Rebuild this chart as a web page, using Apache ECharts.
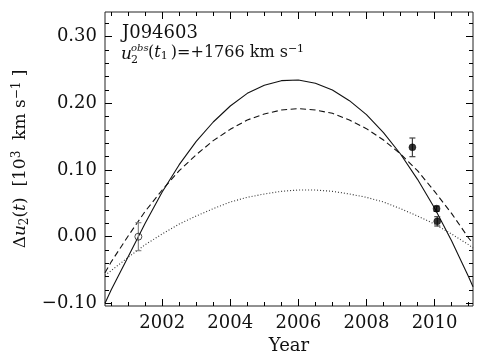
<!DOCTYPE html>
<html>
<head>
<meta charset="utf-8">
<script src="https://cdn.jsdelivr.net/npm/echarts@6/dist/echarts.min.js"></script>
<style>
  html, body { margin: 0; padding: 0; background: #fff; }
  #chart { width: 485px; height: 364px; }
</style>
</head>
<body>
<div id="chart"></div>
<script>
// curves
const years = [2000.32, 2000.5, 2001, 2001.5, 2002, 2002.5, 2003, 2003.5, 2004, 2004.5, 2005, 2005.5,
  2006, 2006.5, 2007, 2007.5, 2008, 2008.5, 2009, 2009.5, 2010, 2010.5, 2011, 2011.13];
const solidCurve = [-0.100, -0.080, -0.030, 0.020, 0.067, 0.108, 0.143, 0.172, 0.196, 0.215, 0.227, 0.234,
  0.235, 0.230, 0.220, 0.204, 0.183, 0.156, 0.124, 0.086, 0.043, -0.006, -0.060, -0.075];
const dashedCurve = [-0.054, -0.038, 0.001, 0.038, 0.070, 0.099, 0.123, 0.144, 0.161, 0.175, 0.184, 0.190,
  0.192, 0.190, 0.185, 0.175, 0.162, 0.145, 0.124, 0.099, 0.068, 0.035, -0.002, -0.010];
const dottedCurve = [-0.058, -0.051, -0.031, -0.012, 0.004, 0.019, 0.031, 0.042, 0.052, 0.059, 0.064, 0.068,
  0.070, 0.070, 0.068, 0.064, 0.059, 0.052, 0.042, 0.031, 0.019, 0.004, -0.012, -0.017];

// observations
const obsYear = [2001.30, 2009.35, 2010.06, 2010.08];
const obsValue = [0.000, 0.134, 0.042, 0.023];
const obsError = [0.021, 0.014, 0.004, 0.007];
const obsOpen = [true, false, false, false];

// ticks
const xMajor = [2002, 2004, 2006, 2008, 2010];
const xMinor = [2000.5, 2001, 2001.5, 2002.5, 2003, 2003.5, 2004.5, 2005, 2005.5, 2006.5, 2007, 2007.5,
  2008.5, 2009, 2009.5, 2010.5, 2011];
const yMajor = [-0.1, 0, 0.1, 0.2, 0.3];
const yMinor = [-0.08, -0.06, -0.04, -0.02, 0.02, 0.04, 0.06, 0.08, 0.12, 0.14, 0.16, 0.18,
  0.22, 0.24, 0.26, 0.28, 0.32];

const serif = 'DejaVu Serif';
const ink = '#111';

function pairs(ys) {
  return years.map((x, i) => [x, ys[i]]);
}

function xAxisDef(pos, values, len, labels) {
  return {
    type: 'value', position: pos, min: 2000.32, max: 2011.13,
    axisLine: { show: false, onZero: false },
    splitLine: { show: false },
    axisTick: { show: true, inside: true, length: len, customValues: values, lineStyle: { color: '#000', width: 1 } },
    axisLabel: labels ? {
      show: true, customValues: values, fontFamily: serif, fontSize: 18, color: ink, margin: 8,
      formatter: v => String(Math.round(v))
    } : { show: false }
  };
}

function yAxisDef(pos, values, len, labels) {
  return {
    type: 'value', position: pos, min: -0.104, max: 0.337,
    axisLine: { show: false, onZero: false },
    splitLine: { show: false },
    axisTick: { show: true, inside: true, length: len, customValues: values, lineStyle: { color: '#000', width: 1 } },
    axisLabel: labels ? {
      show: true, customValues: values, fontFamily: serif, fontSize: 18, color: ink, margin: 8,
      formatter: v => (v < -1e-9 ? '\u2212' : '') + Math.abs(v).toFixed(2)
    } : { show: false }
  };
}

const chart = echarts.init(document.getElementById('chart'));

const xAxes = [
  xAxisDef('bottom', xMajor, 7, true),
  xAxisDef('bottom', xMinor, 4, false),
  xAxisDef('top', xMajor, 7, false),
  xAxisDef('top', xMinor, 4, false)
];
xAxes[0].name = 'Year';
xAxes[0].nameLocation = 'middle';
xAxes[0].nameGap = 28;
xAxes[0].nameTextStyle = { fontFamily: serif, fontSize: 18, color: ink };

const yAxes = [
  yAxisDef('left', yMajor, 7, true),
  yAxisDef('left', yMinor, 4, false),
  yAxisDef('right', yMajor, 7, false),
  yAxisDef('right', yMinor, 4, false)
];
yAxes[0].name = '{n|\u0394}{i|u}{s|2}{n|(}{i|t}{n|)  [10}{p|3}{n|  km s}{p|\u22121}{n| ]}';
yAxes[0].nameLocation = 'middle';
yAxes[0].nameGap = 56;
yAxes[0].nameRotate = 90;
yAxes[0].nameTextStyle = {
  fontFamily: serif, fontSize: 17, color: ink,
  rich: {
    n: { fontFamily: serif, fontSize: 17, color: ink },
    i: { fontFamily: serif, fontSize: 17, fontStyle: 'italic', color: ink },
    s: { fontFamily: serif, fontSize: 12, color: ink, padding: [8, 0, 0, 0] },
    p: { fontFamily: serif, fontSize: 12, color: ink, padding: [0, 0, 8, 0] }
  }
};

const lineSeries = (data, type, width, color) => ({
  type: 'line', data: data, xAxisIndex: 0, yAxisIndex: 0,
  showSymbol: false, smooth: false, silent: true,
  lineStyle: { color: color, width: width, type: type }, z: 2
});

const obsData = obsYear.map((x, i) => [x, obsValue[i], obsError[i]]);

chart.setOption({
  animation: false,
  backgroundColor: '#fff',
  grid: { left: 105, right: 12, top: 12, bottom: 58, show: true, borderColor: '#222', borderWidth: 1, backgroundColor: 'transparent' },
  xAxis: xAxes,
  yAxis: yAxes,
  graphic: [
    { type: 'text', left: 122, top: 24, style: { text: 'J094603', font: '18px "DejaVu Serif"', fill: ink } },
    { type: 'text', left: 121, top: 46, style: { text: 'u', font: 'italic 17px "DejaVu Serif"', fill: ink } },
    { type: 'text', left: 131, top: 43, style: { text: 'obs', font: 'italic 10px "DejaVu Serif"', fill: ink } },
    { type: 'text', left: 131, top: 55, style: { text: '2', font: '11px "DejaVu Serif"', fill: ink } },
    {
      type: 'text', left: 148, top: 44,
      style: {
        text: '{n|(}{i|t}{s|1}{n|\u2009)=+1766 km s}{p|\u22121}',
        fill: ink,
        rich: {
          n: { font: '16px "DejaVu Serif"', fill: ink },
          i: { font: 'italic 16px "DejaVu Serif"', fill: ink },
          s: { font: '11px "DejaVu Serif"', fill: ink, padding: [7, 0, 0, 0] },
          p: { font: '11px "DejaVu Serif"', fill: ink, padding: [0, 0, 7, 0] }
        }
      }
    }
  ],
  series: [
    lineSeries(pairs(solidCurve), 'solid', 1.1, ink),
    lineSeries(pairs(dashedCurve), [6, 3.5], 1.1, ink),
    lineSeries(pairs(dottedCurve), [1, 2], 1.1, '#333'),
    {
      type: 'custom', xAxisIndex: 0, yAxisIndex: 0, silent: true, z: 3,
      data: obsData,
      renderItem: function (params, api) {
        const x = api.value(0), y = api.value(1), e = api.value(2);
        const lo = api.coord([x, y - e]);
        const hi = api.coord([x, y + e]);
        const color = obsOpen[params.dataIndex] ? '#888' : '#444';
        const cap = 3;
        const st = { stroke: color, lineWidth: 1.2 };
        return {
          type: 'group',
          children: [
            { type: 'line', shape: { x1: lo[0], y1: lo[1], x2: hi[0], y2: hi[1] }, style: st },
            { type: 'line', shape: { x1: lo[0] - cap, y1: lo[1], x2: lo[0] + cap, y2: lo[1] }, style: st },
            { type: 'line', shape: { x1: hi[0] - cap, y1: hi[1], x2: hi[0] + cap, y2: hi[1] }, style: st }
          ]
        };
      }
    },
    {
      type: 'scatter', xAxisIndex: 0, yAxisIndex: 0, silent: true, z: 4,
      symbol: 'circle', symbolSize: 7,
      data: obsYear.map((x, i) => ({
        value: [x, obsValue[i]],
        itemStyle: obsOpen[i]
          ? { color: 'rgba(255,255,255,0)', borderColor: '#222', borderWidth: 1 }
          : { color: '#000', borderColor: '#000', borderWidth: 0.5 }
      }))
    }
  ]
});
</script>
</body>
</html>
